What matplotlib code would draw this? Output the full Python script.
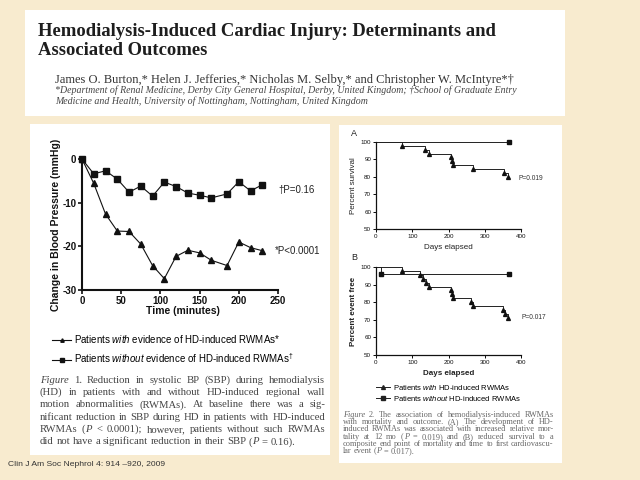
import matplotlib
matplotlib.use('Agg')
import matplotlib.pyplot as plt
from matplotlib.patches import Rectangle
from matplotlib.lines import Line2D

plt.rcParams['font.family'] = ['Liberation Sans', 'DejaVu Sans']
plt.rcParams['axes.unicode_minus'] = False
plt.rcParams['mathtext.fontset'] = 'custom'
plt.rcParams['mathtext.rm'] = 'Liberation Sans'
plt.rcParams['mathtext.it'] = 'Liberation Sans:italic'

W, H = 640, 480

# Figure 1: change in blood pressure during dialysis
bp_time = [0, 15, 30, 45, 60, 75, 90, 105, 120, 135, 150, 165, 185, 200, 215, 230]
bp_without = [0, -3.4, -2.7, -4.6, -7.6, -6.2, -8.5, -5.3, -6.3, -7.8, -8.3, -8.9, -8.0, -5.2, -7.3, -5.9]
bp_with = [0, -5.6, -12.6, -16.5, -16.6, -19.5, -24.4, -27.4, -22.3, -20.9, -21.5, -23.2, -24.4, -19.0, -20.3, -21.0]
bp_ticks_x = [0, 50, 100, 150, 200, 250]
bp_ticks_y = [0, -10, -20, -30]

# Figure 2A: percent survival
surv_days_with = [0, 73, 134, 145, 207, 210, 213, 267, 354, 364]
surv_with = [100, 97.8, 95.6, 93.3, 91.1, 88.9, 86.7, 84.4, 82.2, 80.0]
surv_days_without = [0, 366]
surv_without = [100, 100]

# Figure 2B: percent event free
event_days_with = [0, 73, 122, 131, 137, 146, 207, 210, 213, 262, 268, 351, 356, 363]
event_with = [100, 97.8, 95.6, 93.3, 91.1, 88.9, 86.7, 84.4, 82.2, 80.0, 77.8, 75.6, 73.3, 71.1]
event_days_without = [0, 14, 366]
event_without = [100, 96.0, 96.0]

km_ticks_x = [0, 100, 200, 300, 400]
km_ticks_y = [50, 60, 70, 80, 90, 100]

caption1 = [
    "_Figure_ 1. Reduction in systolic BP (SBP) during hemodialysis",
    "(HD) in patients with and without HD-induced regional wall",
    "motion abnormalities (RWMAs). At baseline there was a sig-",
    "nificant reduction in SBP during HD in patients with HD-induced",
    "RWMAs (_P_ < 0.0001); however, patients without such RWMAs",
    "did not have a significant reduction in their SBP (_P_ = 0.16).",
]
caption2 = [
    "_Figure_ 2. The association of hemodialysis-induced RWMAs",
    "with mortality and outcome. (A) The development of HD-",
    "induced RWMAs was associated with increased relative mor-",
    "tality at 12 mo (_P_ = 0.019) and (B) reduced survival to a",
    "composite end point of mortality and time to first cardiovascu-",
    "lar event (_P_ = 0.017).",
]

fig = plt.figure(figsize=(6.4, 4.8), dpi=100)
fig.patch.set_facecolor('#F8EBCF')
r = fig.canvas.get_renderer()


def box(x0, y0, x1, y1):
    return [x0 / W, 1 - y1 / H, (x1 - x0) / W, (y1 - y0) / H]


def panel(x0, y0, x1, y1):
    fig.add_artist(Rectangle((x0 / W, 1 - y1 / H), (x1 - x0) / W, (y1 - y0) / H,
                             transform=fig.transFigure, facecolor='white',
                             edgecolor='none', zorder=0))


def fitted(x, y, s, width, **kw):
    t = fig.text(x / W, 1 - y / H, s, fontsize=10, va='baseline', **kw)
    t.set_fontsize(10 * width / t.get_window_extent(r).width)
    return t


def word_parts(word):
    return [(p, 'italic' if i % 2 else 'normal') for i, p in enumerate(word.split('_')) if p]


def word_width(word, size, family):
    w = 0
    for p, st in word_parts(word):
        t = fig.text(0, 0, p, fontsize=size, family=family, style=st)
        w += t.get_window_extent(r).width
        t.remove()
    return w


def paragraph(lines, x0, x1, y0, dy, family, color, fill=0.975):
    # pick the size so that the tightest line just fits with ordinary spaces
    space10 = word_width('a a', 10, family) - 2 * word_width('a', 10, family)
    natural = [sum(word_width(w, 10, family) for w in ln.split(' ')) + space10 * (len(ln.split(' ')) - 1)
               for ln in lines[:-1]]
    size = 10 * fill * (x1 - x0) / max(natural)
    space = space10 * size / 10
    for k, line in enumerate(lines):
        words = line.split(' ')
        widths = [word_width(w, size, family) for w in words]
        gap = space
        if k < len(lines) - 1:
            gap = (x1 - x0 - sum(widths)) / (len(words) - 1)
        x = x0
        y = y0 + k * dy
        for w, ww in zip(words, widths):
            xx = x
            for p, st in word_parts(w):
                t = fig.text(xx / W, 1 - y / H, p, fontsize=size, family=family,
                             style=st, color=color, va='baseline')
                xx += t.get_window_extent(r).width
            x += ww + gap


def prism_axes(ax, lw, tick_len, label_size, bold):
    for s in ['top', 'right']:
        ax.spines[s].set_visible(False)
    for s in ['left', 'bottom']:
        ax.spines[s].set_linewidth(lw)
        ax.spines[s].set_color('#111111')
    ax.tick_params(direction='out', length=tick_len, width=lw * 0.8, pad=1,
                   labelsize=label_size, colors='#111111')
    if bold:
        for lab in ax.get_xticklabels() + ax.get_yticklabels():
            lab.set_fontweight('bold')
    ax.patch.set_alpha(0)


# white panels
panel(25, 10, 565, 116)
panel(30, 124, 330, 455)
panel(339, 125, 562, 463)

# header
serif = ['Liberation Serif', 'DejaVu Serif']
t1 = fitted(38, 36.5, 'Hemodialysis-Induced Cardiac Injury: Determinants and', 459,
            family=serif, fontweight='bold', color='#1e1e1e')
fig.text(38 / W, 1 - 55 / H, 'Associated Outcomes', fontsize=t1.get_fontsize(),
         family=serif, fontweight='bold', color='#1e1e1e', va='baseline')
fitted(55, 83.5, 'James O. Burton,* Helen J. Jefferies,* Nicholas M. Selby,* and Christopher W. McIntyre*\u2020',
       460, family=serif, color='#333333')
a1 = fitted(55, 93, '*Department of Renal Medicine, Derby City General Hospital, Derby, United Kingdom; '
            '\u2020School of Graduate Entry', 462, family=serif, style='italic', color='#444444')
fig.text(55 / W, 1 - 104.5 / H, 'Medicine and Health, University of Nottingham, Nottingham, United Kingdom',
         fontsize=a1.get_fontsize(), family=serif, style='italic', color='#444444', va='baseline')

# Figure 1 chart
ax1 = fig.add_axes(box(82, 159, 278, 290))
l_without, = ax1.plot(bp_time, bp_without, color='#111111', lw=0.8, marker='s', ms=4.8, clip_on=False)
l_with, = ax1.plot(bp_time, bp_with, color='#111111', lw=0.8, marker='^', ms=4.5, clip_on=False)
ax1.set_xlim(0, 250)
ax1.set_ylim(-30, 0)
ax1.set_xticks(bp_ticks_x)
ax1.set_yticks(bp_ticks_y)
prism_axes(ax1, 1.5, 3, 7, True)
ax1.set_xlabel('Time (minutes)', fontsize=7.5, fontweight='bold', color='#111111')
ax1.xaxis.set_label_coords(0.515, -0.12)
ax1.set_ylabel('Change in Blood Pressure (mmHg)', fontsize=7.5, fontweight='bold', color='#111111')
ax1.yaxis.set_label_coords(-0.105, 0.5)
ax1.text(1.0, 0.76, '\u2020P=0.16', transform=ax1.transAxes, fontsize=7, va='center', color='#222222')
ax1.text(0.985, 0.30, '*P<0.0001', transform=ax1.transAxes, fontsize=7, va='center', color='#222222')

fig.legend([l_with, l_without],
           ['Patients $\\mathit{with}$ evidence of HD-induced RWMAs*',
            'Patients $\\mathit{without}$ evidence of HD-induced RWMAs$^{\\dagger}$'],
           loc='upper left', bbox_to_anchor=(52 / W, 1 - 333 / H), frameon=False,
           fontsize=7, borderpad=0, borderaxespad=0, handlelength=2.0,
           handletextpad=0.3, labelspacing=0.65, markerscale=0.55)

paragraph(caption1, 40, 325, 382.7, 12.35, serif, '#444444', fill=0.985)

# Figure 2 charts
ax2 = fig.add_axes(box(376, 142, 521, 229))
ax2.step(surv_days_without, surv_without, where='post', color='#222222', lw=0.7, clip_on=False)
ax2.plot(surv_days_without[1:], surv_without[1:], ls='none', marker='s', ms=2.6, color='#111111', clip_on=False)
ax2.step(surv_days_with, surv_with, where='post', color='#222222', lw=0.7, clip_on=False)
ax2.plot(surv_days_with[1:], surv_with[1:], ls='none', marker='^', ms=2.8, color='#111111', clip_on=False)

ax3 = fig.add_axes(box(376, 267, 521, 355))
ax3.step(event_days_without, event_without, where='post', color='#222222', lw=0.7, clip_on=False)
ax3.plot(event_days_without[1:], event_without[1:], ls='none', marker='s', ms=2.6, color='#111111', clip_on=False)
ax3.step(event_days_with, event_with, where='post', color='#222222', lw=0.7, clip_on=False)
ax3.plot(event_days_with[1:], event_with[1:], ls='none', marker='^', ms=2.8, color='#111111', clip_on=False)

for ax, ylab, bold in [(ax2, 'Percent survival', False), (ax3, 'Percent event free', True)]:
    ax.set_xlim(0, 400)
    ax.set_ylim(50, 100)
    ax.set_xticks(km_ticks_x)
    ax.set_yticks(km_ticks_y)
    prism_axes(ax, 0.9, 2.5, 4.5, False)
    w = 'bold' if bold else 'normal'
    ax.set_xlabel('Days elapsed', fontsize=5.8, fontweight=w, color='#222222')
    ax.xaxis.set_label_coords(0.5, -0.17)
    ax.set_ylabel(ylab, fontsize=5.8, fontweight=w, color='#222222')
    ax.yaxis.set_label_coords(-0.13, 0.5)

ax2.text(0.98, 0.575, 'P=0.019', transform=ax2.transAxes, fontsize=4.8, va='center', color='#333333')
ax3.text(1.0, 0.43, 'P=0.017', transform=ax3.transAxes, fontsize=4.8, va='center', color='#333333')
fig.text(351 / W, 1 - 133 / H, 'A', fontsize=6.5, va='center', color='#222222')
fig.text(351 / W, 1 - 258 / H, 'B', fontsize=6.5, va='center', color='#222222')

h_with = Line2D([], [], color='#222222', lw=0.7, marker='^', ms=2.8)
h_without = Line2D([], [], color='#222222', lw=0.7, marker='s', ms=2.6)
fig.legend([h_with, h_without],
           ['Patients $\\mathit{with}$ HD-induced RWMAs', 'Patients $\\mathit{without}$ HD-induced RWMAs'],
           loc='upper left', bbox_to_anchor=(376 / W, 1 - 382.5 / H), frameon=False,
           fontsize=5.5, borderpad=0, borderaxespad=0, handlelength=1.85,
           handletextpad=0.4, labelspacing=0.3)

paragraph(caption2, 342.7, 553.5, 416.7, 7.33, serif, '#666666', fill=0.98)

fitted(8, 466, 'Clin J Am Soc Nephrol 4: 914 \u2013920, 2009', 156, color='#333333')

fig.savefig('out.png', dpi=100, facecolor=fig.get_facecolor())
